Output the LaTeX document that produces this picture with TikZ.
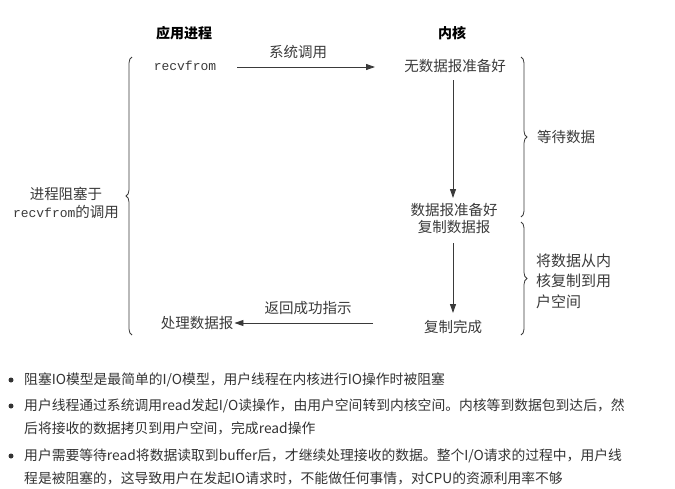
\documentclass[tikz,border=0pt]{standalone}
\usepackage{fontspec}
\setmainfont{Noto Sans CJK SC}
\newfontfamily\cjk{Noto Sans CJK SC}
\newfontfamily\monof{Liberation Mono}
\usetikzlibrary{arrows.meta,decorations.pathreplacing}
\definecolor{ink}{HTML}{3A3A3A}
\definecolor{bul}{HTML}{333333}
\tikzset{
  lbl/.style={font=\cjk\fontsize{14.5}{16}\selectfont, text=ink, inner sep=0pt},
  head/.style={font=\cjk\bfseries\fontsize{14}{16}\selectfont, text=black, inner sep=0pt},
  mono/.style={font=\monof\fontsize{13}{15}\selectfont, text=ink, inner sep=0pt},
  arr/.style={draw=ink, line width=0.9pt, -{Triangle[length=9pt,width=6pt]}},
  brc/.style={draw=ink, line width=0.8pt, decorate, decoration={brace, amplitude=6pt}},
  btxt/.style={font=\cjk\fontsize{13.8}{22}\selectfont, text=bul, inner sep=0pt, anchor=west},
  dot/.style={circle, fill=bul, inner sep=0pt, minimum size=5pt}
}
\begin{document}
\begin{tikzpicture}[x=1pt,y=-1pt]
\useasboundingbox (0,0) rectangle (675,488);
% headers
\node[head] (app) at (184,33) {应用进程};
\node[head] (ker) at (452,33) {内核};
% left column
\node[mono] (recv) at (185,66) {recvfrom};
\node[lbl] (proc) at (197,323) {处理数据报};
% kernel column
\node[lbl] (nodg) at (455,66) {无数据报准备好};
\node[lbl, align=center, font=\cjk\fontsize{14.5}{17}\selectfont] (ready) at (454,218) {数据报准备好\\复制数据报};
\node[lbl] (done) at (453,327) {复制完成};
% arrows
\coordinate (s1) at (237,67);
\coordinate (e1) at (375,67);
\draw[arr] (s1) -- (e1);
\node[lbl] (syscall) at (298,52) {系统调用};
\coordinate (a2s) at (453,80);
\coordinate (a2e) at (453,198);
\draw[arr] (a2s) -- (a2e);
\coordinate (a3s) at (453,243);
\coordinate (a3e) at (453,313);
\draw[arr] (a3s) -- (a3e);
\coordinate (r1) at (373,323);
\draw[arr] (r1) -- ([xshift=1pt]proc.east);
\node[lbl] (ret) at (308,308) {返回成功指示};
% braces
\coordinate (lb1) at (132,335);
\coordinate (lb2) at (132,57);
\draw[brc] (lb1) -- (lb2);
\node[lbl, align=center, font=\cjk\fontsize{14.5}{18}\selectfont] (block) at (66,203) {进程阻塞于\\{\monof\fontsize{13}{15}\selectfont recvfrom}的调用};
\coordinate (rb1) at (521,57);
\coordinate (rb2) at (521,217);
\draw[brc] (rb1) -- (rb2);
\node[lbl, anchor=west] (wait) at (537,137) {等待数据};
\coordinate (rc1) at (521,222);
\coordinate (rc2) at (521,335);
\draw[brc] (rc1) -- (rc2);
\node[lbl, anchor=west, align=left, font=\cjk\fontsize{15}{20.5}\selectfont] (copy) at (536,281) {将数据从内\\核复制到用\\户空间};
% bullets
\node[dot] (d1) at (11,380) {};
\node[btxt] (t1) at (24,380) {阻塞IO模型是最简单的I/O模型，用户线程在内核进行IO操作时被阻塞};
\node[dot] (d2) at (11,406) {};
\node[btxt] (t2) at (24,406) {用户线程通过系统调用read发起I/O读操作，由用户空间转到内核空间。内核等到数据包到达后，然};
\node[btxt] (t2b) at (24,428) {后将接收的数据拷贝到用户空间，完成read操作};
\node[dot] (d3) at (11,456) {};
\node[btxt] (t3) at (24,456) {用户需要等待read将数据读取到buffer后，才继续处理接收的数据。整个I/O请求的过程中，用户线};
\node[btxt] (t3b) at (24,478) {程是被阻塞的，这导致用户在发起IO请求时，不能做任何事情，对CPU的资源利用率不够};
\end{tikzpicture}
\end{document}
